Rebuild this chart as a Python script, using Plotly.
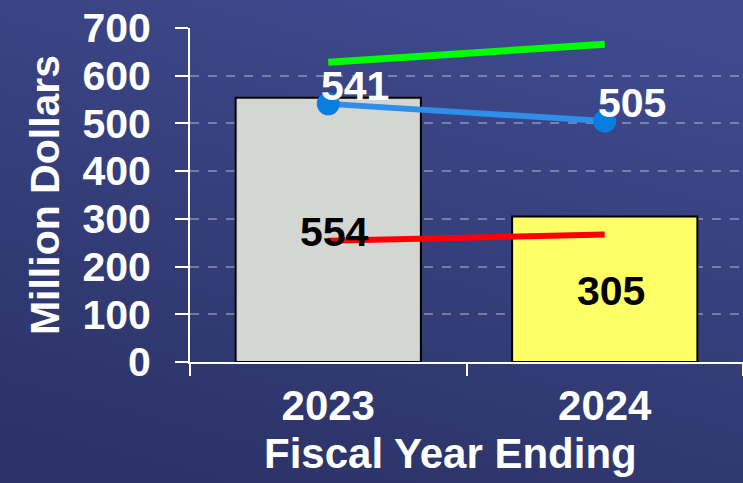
import plotly.graph_objects as go
import base64

years = ["2023", "2024"]
bar_values = [554, 305]
bar_colors = ["#d4d6d3", "#ffff66"]
green_values = [628, 666]
blue_values = [541, 505]
red_values = [254, 267]

FONT = "Arial, 'Liberation Sans', sans-serif"

svg = ('<svg xmlns="http://www.w3.org/2000/svg" width="743" height="483" preserveAspectRatio="none">'
       '<defs><linearGradient id="g" x1="0.3" y1="1" x2="0.7" y2="0">'
       '<stop offset="0" stop-color="#2b3367"/><stop offset="1" stop-color="#3f4a8e"/>'
       '</linearGradient></defs><rect width="743" height="483" fill="url(#g)"/></svg>')
src = "data:image/svg+xml;base64," + base64.b64encode(svg.encode()).decode()

fig = go.Figure()
fig.add_trace(go.Bar(
    x=years, y=bar_values, width=0.67,
    marker=dict(color=bar_colors, line=dict(color="black", width=2)),
    hoverinfo="skip", showlegend=False,
))
fig.add_trace(go.Scatter(
    x=years, y=green_values, mode="lines",
    line=dict(color="#00ff00", width=7), showlegend=False,
))
fig.add_trace(go.Scatter(
    x=years, y=red_values, mode="lines",
    line=dict(color="#ff0000", width=6), showlegend=False,
))
fig.add_trace(go.Scatter(
    x=years, y=blue_values, mode="lines+markers",
    line=dict(color="#2e8ee8", width=6),
    marker=dict(color="#0a7de0", size=23),
    showlegend=False,
))

annotations = []
for i, v in enumerate(bar_values):
    annotations.append(dict(xref="x", yref="y", x=i, y=v / 2, text=str(v), showarrow=False,
                            xshift=6, yshift=-2,
                            font=dict(family=FONT, size=41, color="black", weight="bold")))
for i, v in enumerate(blue_values):
    annotations.append(dict(xref="x", yref="y", x=i, y=v, text=str(v), showarrow=False,
                            xshift=27, yshift=18,
                            font=dict(family=FONT, size=41, color="white", weight="bold")))
annotations.append(dict(xref="paper", yref="paper", x=(450 - 190) / 553,
                        y=-(453 - 362) / 334, text="Fiscal Year Ending", showarrow=False,
                        xanchor="center", yanchor="middle",
                        font=dict(family=FONT, size=42, color="white", weight="bold")))

fig.update_layout(
    width=743, height=483,
    margin=dict(l=190, r=0, t=28, b=121),
    paper_bgcolor="#333c77", plot_bgcolor="rgba(0,0,0,0)",
    images=[dict(source=src, xref="paper", yref="paper", x=-190/553, y=1+28/334,
                 sizex=743/553, sizey=483/334, sizing="stretch",
                 xanchor="left", yanchor="top", layer="below")],
    font=dict(family=FONT, color="white"),
    annotations=annotations,
)
fig.update_xaxes(
    type="category", range=[-0.5, 1.5], tickson="boundaries",
    showline=True, linecolor="white", linewidth=2,
    ticks="outside", ticklen=12, tickwidth=2, tickcolor="white",
    showgrid=False, ticklabelstandoff=6,
    tickfont=dict(family=FONT, size=42, color="white", weight="bold"),
)
fig.update_yaxes(
    range=[0, 700], tickvals=[0, 100, 200, 300, 400, 500, 600, 700],
    showline=True, linecolor="white", linewidth=2,
    ticks="outside", ticklen=13, tickwidth=2, tickcolor="white",
    showgrid=True, gridcolor="rgba(200,200,220,0.45)", griddash="dash", gridwidth=1.5,
    zeroline=False, ticklabelstandoff=16,
    tickfont=dict(family=FONT, size=41, color="white", weight="bold"),
    title=dict(text="Million Dollars", standoff=10,
               font=dict(family=FONT, size=41, color="white", weight="bold")),
)

fig.write_html("out.html")
